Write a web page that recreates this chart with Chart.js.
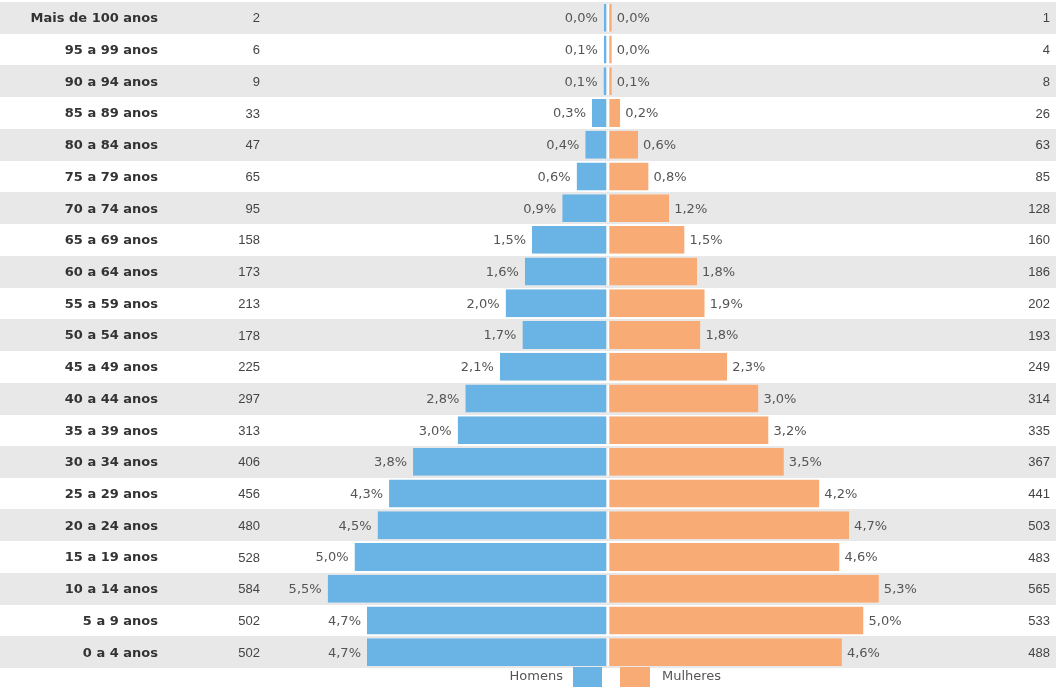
<!DOCTYPE html>
<html>
<head>
<meta charset="utf-8">
<script src="https://cdn.jsdelivr.net/npm/chart.js@4.4.1/dist/chart.umd.min.js"></script>
<style>
  html, body { margin: 0; padding: 0; background: #ffffff; }
</style>
</head>
<body>
<canvas id="piramide" width="1056" height="687"></canvas>
<script>
// faixas etarias, de cima para baixo
const faixas = [
  "Mais de 100 anos", "95 a 99 anos", "90 a 94 anos", "85 a 89 anos", "80 a 84 anos",
  "75 a 79 anos", "70 a 74 anos", "65 a 69 anos", "60 a 64 anos", "55 a 59 anos",
  "50 a 54 anos", "45 a 49 anos", "40 a 44 anos", "35 a 39 anos", "30 a 34 anos",
  "25 a 29 anos", "20 a 24 anos", "15 a 19 anos", "10 a 14 anos", "5 a 9 anos", "0 a 4 anos"
];
const homens = [2, 6, 9, 33, 47, 65, 95, 158, 173, 213, 178, 225, 297, 313, 406, 456, 480, 528, 584, 502, 502];
const mulheres = [1, 4, 8, 26, 63, 85, 128, 160, 186, 202, 193, 249, 314, 335, 367, 441, 503, 483, 565, 533, 488];
const pctHomens = [0.0, 0.1, 0.1, 0.3, 0.4, 0.6, 0.9, 1.5, 1.6, 2.0, 1.7, 2.1, 2.8, 3.0, 3.8, 4.3, 4.5, 5.0, 5.5, 4.7, 4.7];
const pctMulheres = [0.0, 0.0, 0.1, 0.2, 0.6, 0.8, 1.2, 1.5, 1.8, 1.9, 1.8, 2.3, 3.0, 3.2, 3.5, 4.2, 4.7, 4.6, 5.3, 5.0, 4.6];
const legenda = ["Homens", "Mulheres"];

const azul = "#6ab3e5";
const laranja = "#f8ab74";
const listra = "#e8e8e8";

const fmtPct = v => v.toFixed(1).replace(".", ",") + "%";

// grey bands behind every other row
const listras = {
  id: "listras",
  beforeDatasetsDraw(chart) {
    const { ctx, scales: { y } } = chart;
    const half = (y.bottom - y.top) / faixas.length / 2;
    ctx.save();
    ctx.fillStyle = listra;
    faixas.forEach((f, i) => {
      if (i % 2 !== 0) return;
      const py = y.getPixelForValue(i);
      ctx.fillRect(0, Math.round(py - half), chart.width, Math.round(2 * half));
    });
    ctx.restore();
  }
};

// row labels, counts, percentages and legend
const textos = {
  id: "textos",
  afterDatasetsDraw(chart) {
    const { ctx, scales: { y } } = chart;
    const mH = chart.getDatasetMeta(0);
    const mM = chart.getDatasetMeta(1);
    ctx.save();
    ctx.textBaseline = "middle";
    faixas.forEach((f, i) => {
      const py = y.getPixelForValue(i) + 1;

      ctx.font = "bold 13px 'DejaVu Sans'";
      ctx.fillStyle = "#333333";
      ctx.textAlign = "right";
      ctx.fillText(f, 158, py);

      ctx.font = "13px 'Liberation Sans'";
      ctx.fillStyle = "#444444";
      ctx.fillText(String(homens[i]), 260, py);
      ctx.fillText(String(mulheres[i]), 1050, py);

      ctx.font = "13px 'DejaVu Sans'";
      ctx.fillStyle = "#555555";
      ctx.fillText(fmtPct(pctHomens[i]), mH.data[i].x - 6, py);
      ctx.textAlign = "left";
      ctx.fillText(fmtPct(pctMulheres[i]), mM.data[i].x + 5, py);
    });

    // legend
    ctx.font = "13px 'DejaVu Sans'";
    ctx.fillStyle = "#555555";
    ctx.textAlign = "right";
    ctx.fillText(legenda[0], 563, 677);
    ctx.fillStyle = azul;
    ctx.fillRect(573, 667, 29, 20);
    ctx.fillStyle = laranja;
    ctx.fillRect(620, 667, 30, 20);
    ctx.fillStyle = "#555555";
    ctx.textAlign = "left";
    ctx.fillText(legenda[1], 662, 677);
    ctx.restore();
  }
};

new Chart(document.getElementById("piramide"), {
  type: "bar",
  data: {
    labels: faixas,
    datasets: [
      {
        label: legenda[0],
        data: homens.map(v => -v),
        backgroundColor: azul,
        borderColor: "#ffffff",
        borderWidth: { top: 0, right: 1.5, bottom: 0, left: 0 },
        borderSkipped: false,
        minBarLength: 4
      },
      {
        label: legenda[1],
        data: mulheres,
        backgroundColor: laranja,
        borderColor: "#ffffff",
        borderWidth: { top: 0, right: 0, bottom: 0, left: 1.5 },
        borderSkipped: false,
        minBarLength: 4
      }
    ]
  },
  options: {
    indexAxis: "y",
    responsive: false,
    animation: false,
    barPercentage: 0.88,
    categoryPercentage: 1.0,
    layout: { padding: { left: 272, right: 74, top: 2, bottom: 19 } },
    scales: {
      x: { stacked: true, min: -700, max: 780, display: false },
      y: { stacked: true, display: false }
    },
    plugins: {
      legend: { display: false },
      tooltip: { enabled: false }
    }
  },
  plugins: [listras, textos]
});
</script>
</body>
</html>
